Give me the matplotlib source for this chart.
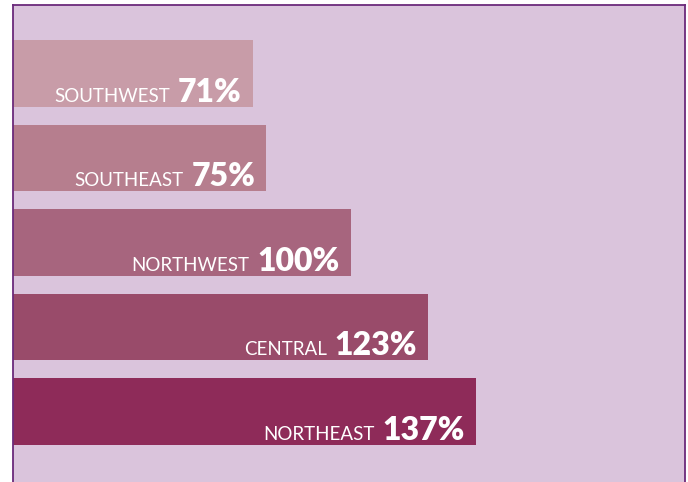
import matplotlib
matplotlib.use("Agg")
import matplotlib.pyplot as plt
from matplotlib.transforms import offset_copy

regions = ["SOUTHWEST", "SOUTHEAST", "NORTHWEST", "CENTRAL", "NORTHEAST"]
values = [71, 75, 100, 123, 137]
bar_colors = ["#c89ca8", "#b67e8e", "#a7657e", "#994b6a", "#8e2b59"]

plt.rcParams['font.family'] = ['Lato', 'DejaVu Sans']

fig = plt.figure(figsize=(6.88, 4.82), dpi=100)
fig.patch.set_facecolor("white")
W, H = 688, 482
# axes box: left 13px, top 5px, right 685px, runs past the bottom edge
ax = fig.add_axes([13 / W, -9.7 / H, 672 / W, 486.7 / H])
ax.set_facecolor("#dac4dc")

ypos = list(range(len(regions)))
ax.barh(ypos, values, height=0.79, color=bar_colors, linewidth=0)

ax.set_xlim(0, 199)
ax.set_ylim(4.95, -0.81)
ax.set_xticks([])
ax.set_yticks([])
for side, sp in ax.spines.items():
    sp.set_color("#6b2a7b")
    sp.set_linewidth(1.3)

fig.canvas.draw()
renderer = fig.canvas.get_renderer()
for i, (name, val) in enumerate(zip(regions, values)):
    tr_num = offset_copy(ax.transData, fig=fig, x=-11, y=5, units='dots')
    tr_name = offset_copy(ax.transData, fig=fig, x=0, y=5, units='dots')
    num = ax.text(val, i + 0.395, f"{val}%", transform=tr_num, ha="right", va="baseline",
                  fontsize=23, fontweight="heavy", color="white")
    bb = num.get_window_extent(renderer=renderer)
    x_data = ax.transData.inverted().transform((bb.x0 - 8, 0))[0]
    ax.text(x_data, i + 0.395, name, transform=tr_name, ha="right", va="baseline",
            fontsize=13.5, color="white")

fig.savefig("out.png", dpi=100)
